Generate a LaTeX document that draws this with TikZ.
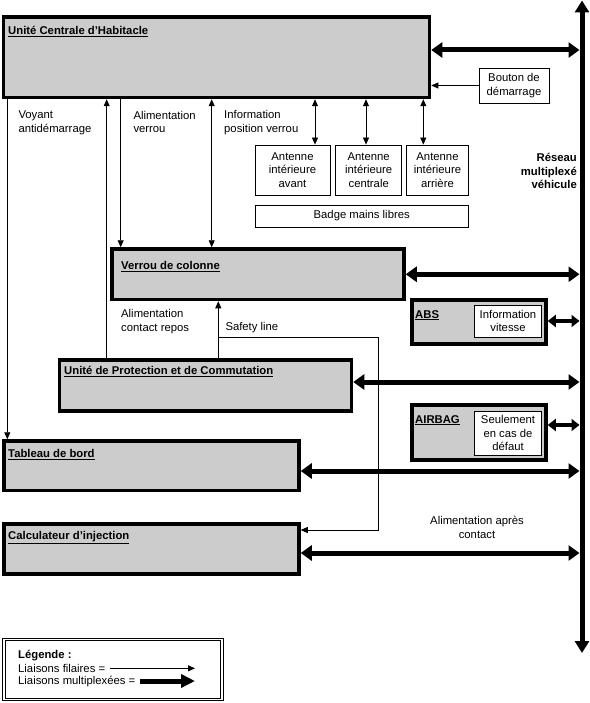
\documentclass[tikz,border=0pt]{standalone}
\usepackage{fontspec}
\setmainfont{Liberation Sans}
\usetikzlibrary{arrows.meta}

\begin{document}
\begin{tikzpicture}[x=1pt, y=-1pt,
            every node/.style={font=\fontsize{11.3}{13.5}\selectfont, inner sep=0pt},
            bloc/.style={rectangle, draw, line width=3.5pt, fill=black!20},
            boite/.style={rectangle, draw, line width=0.8pt, fill=white, align=center},
            titre/.style={anchor=north west, font=\fontsize{11.3}{13.5}\selectfont\bfseries},
            etiq/.style={anchor=north west, align=left},
            fil/.style={-{Triangle[length=7pt,width=6pt]}, line width=0.8pt},
            fils/.style={{Triangle[length=7pt,width=6pt]}-{Triangle[length=7pt,width=6pt]}, line width=0.8pt},
            mux/.style={{Triangle[length=11pt,width=15pt]}-{Triangle[length=11pt,width=15pt]}, line width=5pt, shorten >=2.5pt},
            muxc/.style={{Triangle[length=8pt,width=12pt]}-{Triangle[length=8pt,width=12pt]}, line width=4pt, shorten >=2.5pt},
            bus/.style={{Triangle[length=12pt,width=14pt]}-{Triangle[length=12pt,width=14pt]}, line width=5pt},
            muxl/.style={-{Triangle[length=14pt,width=13pt]}, line width=5pt}
        ]
        \useasboundingbox (0,0) rectangle (589,703);

        % Calculateurs
        \node[bloc, minimum width=426pt, minimum height=80.5pt] (uch) at (216.5,57.25) {};
        \node[bloc, minimum width=292pt, minimum height=50.5pt] (verrou) at (258,274.25) {};
        \node[bloc, minimum width=292pt, minimum height=51pt] (upc) at (205.5,385.5) {};
        \node[bloc, minimum width=134pt, minimum height=44pt] (abs) at (479,322) {};
        \node[bloc, minimum width=134pt, minimum height=55pt] (airbag) at (479,432.5) {};
        \node[bloc, minimum width=295pt, minimum height=49.5pt] (tdb) at (151.5,465.75) {};
        \node[bloc, minimum width=295pt, minimum height=50pt] (calc) at (151.5,549) {};

        \node[titre] (uch-t) at (8,26) {\underline{Unité Centrale d'Habitacle}};
        \node[titre] (verrou-t) at (121,261) {\underline{Verrou de colonne}};
        \node[titre] (upc-t) at (64,366.5) {\underline{Unité de Protection et de Commutation}};
        \node[titre] (abs-t) at (415,310) {\underline{ABS}};
        \node[titre] (airbag-t) at (415,415) {\underline{AIRBAG}};
        \node[titre] (tdb-t) at (8,449) {\underline{Tableau de bord}};
        \node[titre] (calc-t) at (8,531) {\underline{Calculateur d'injection}};

        % Boitiers simples
        \node[boite, minimum width=70pt, minimum height=35pt] (bouton) at (514,85.5) {Bouton de\\démarrage};
        \node[boite, minimum width=75pt, minimum height=50pt] (ant-av) at (292.5,170) {Antenne\\intérieure\\avant};
        \node[boite, minimum width=66pt, minimum height=50pt] (ant-ce) at (368.7,170) {Antenne\\intérieure\\centrale};
        \node[boite, minimum width=61.6pt, minimum height=50pt] (ant-ar) at (437.5,170) {Antenne\\intérieure\\arrière};
        \node[boite, minimum width=213.3pt, minimum height=22pt] (badge) at (361.7,216) {Badge mains libres};
        \node[boite, minimum width=67.7pt, minimum height=32pt] (abs-v) at (508,321) {Information\\vitesse};
        \node[boite, minimum width=67.7pt, minimum height=43.3pt] (airbag-d) at (508,433.3) {Seulement\\en cas de\\défaut};

        % Etiquettes
        \node[etiq] (l-voyant) at (18.3,111) {Voyant\\antidémarrage};
        \node[etiq] (l-alim) at (133.3,111) {Alimentation\\verrou};
        \node[etiq] (l-info) at (224,110.5) {Information\\position verrou};
        \node[etiq] (l-repos) at (121,309.5) {Alimentation\\contact repos};
        \node[etiq] (l-safety) at (225.3,322.5) {Safety line};
        \node[align=center] (l-apc) at (477,527.5) {Alimentation après\\contact};
        \node[align=right, anchor=east, font=\fontsize{11.3}{13.5}\selectfont\bfseries] (l-reseau) at (577,171) {Réseau\\multiplexé\\véhicule};

        % Reseau multiplexe
        \coordinate (bus-h) at (582,0.5);
        \coordinate (bus-b) at (582,653);
        \draw[bus] (bus-h) -- (bus-b);

        \coordinate (r-uch) at (0,50);
        \coordinate (r-upc) at (0,382);
        \coordinate (r-abs) at (0,321);
        \coordinate (r-airbag) at (0,425);
        \coordinate (r-tdb) at (0,471);
        \coordinate (r-calc) at (0,553);
        \draw[mux] (uch.east |- r-uch) -- (bus-h |- r-uch);
        \draw[mux] (verrou.east) -- (verrou.east -| bus-h);
        \draw[mux] (upc.east |- r-upc) -- (bus-h |- r-upc);
        \draw[muxc] (abs.east |- r-abs) -- (bus-h |- r-abs);
        \draw[muxc] (airbag.east |- r-airbag) -- (bus-h |- r-airbag);
        \draw[mux] (tdb.east |- r-tdb) -- (bus-h |- r-tdb);
        \draw[mux] (calc.east |- r-calc) -- (bus-h |- r-calc);

        % Liaisons filaires
        \coordinate (c-voy) at (7.3,0);
        \coordinate (c-repos) at (106.7,0);
        \coordinate (c-alim) at (120.7,0);
        \coordinate (c-info) at (211.7,0);
        \coordinate (c-av) at (315,0);
        \coordinate (c-ce) at (366,0);
        \coordinate (c-ar) at (423.3,0);
        \draw[fil] (bouton.west) -- (bouton.west -| uch.east);
        \draw[fil] (uch.south -| c-voy) -- (tdb.north -| c-voy);
        \draw[fil] (upc.north -| c-repos) -- (uch.south -| c-repos);
        \draw[fil] (uch.south -| c-alim) -- (verrou.north -| c-alim);
        \draw[fils] (uch.south -| c-info) -- (verrou.north -| c-info);
        \draw[fils] (uch.south -| c-av) -- (ant-av.north -| c-av);
        \draw[fils] (uch.south -| c-ce) -- (ant-ce.north -| c-ce);
        \draw[fils] (uch.south -| c-ar) -- (ant-ar.north -| c-ar);

        \coordinate (sl-b) at (218.3,337.3);
        \coordinate (sl-r) at (378.3,530);
        \draw[fil] (upc.north -| sl-b) -- (verrou.south -| sl-b);
        \draw[fil] (sl-b) -| (sl-r) -- (calc.east |- sl-r);

        % Legende
        \node[rectangle, draw, double, line width=0.9pt, double distance=1.4pt, minimum width=218pt, minimum height=59.8pt] (leg) at (113,669.4) {};
        \node[titre] (leg-t) at (18,650) {Légende :};
        \node[anchor=west] (leg-f) at (18,668) {Liaisons filaires =};
        \node[anchor=west] (leg-m) at (18,681.5) {Liaisons multiplexées =};
        \coordinate (leg-x) at (195,0);
        \coordinate (leg-fd) at (110,668.3);
        \coordinate (leg-md) at (140,681);
        \draw[fil] (leg-fd) -- (leg-fd -| leg-x);
        \draw[muxl] (leg-md) -- (leg-md -| leg-x);

    \end{tikzpicture}
\end{document}
